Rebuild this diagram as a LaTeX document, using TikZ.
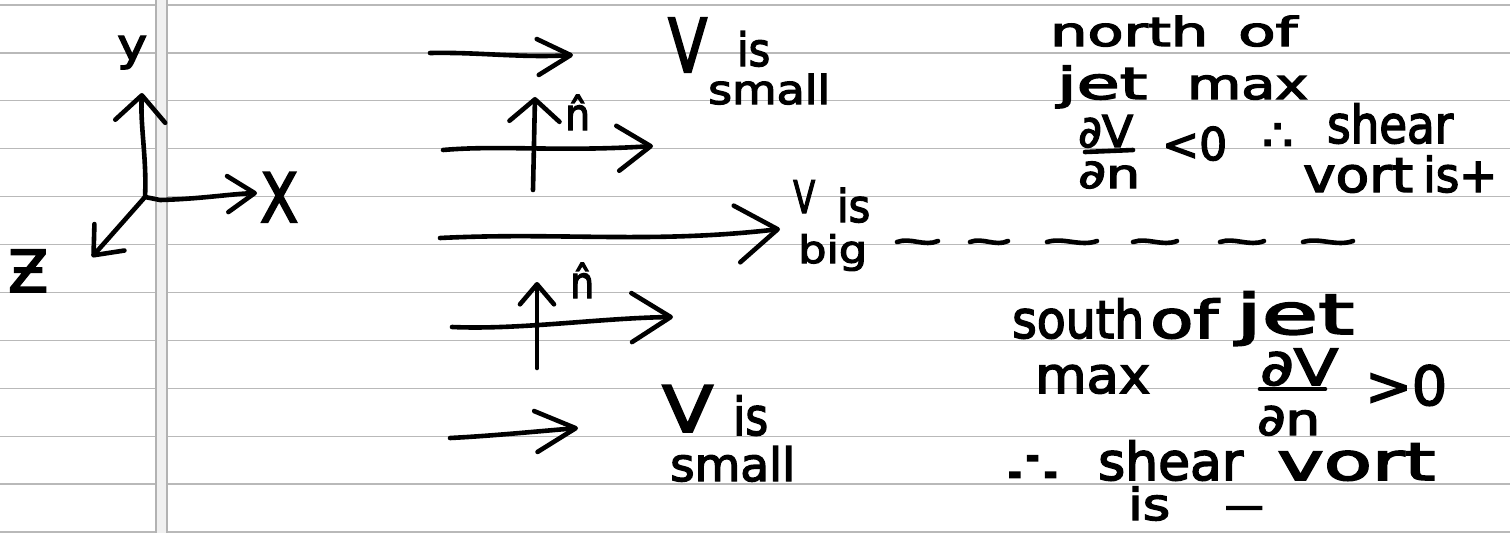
\documentclass[tikz,border=0pt]{standalone}
\usepackage{fontspec}
\setmainfont{DejaVu Sans}[FakeBold=3]
\usetikzlibrary{arrows.meta}
% stretch a word horizontally to a given width, keeping its height
\newcommand{\hw}[2]{\resizebox{#1pt}{\height}{#2}}
\begin{document}
\begin{tikzpicture}[x=1pt,y=-1pt,
  ink/.style={line width=4.6pt,line cap=round,line join=round,black},
  hd/.style 2 args={-{Straight Barb[length=#1pt,width=#2pt,round]}},
  hand/.style={inner sep=0pt,anchor=base west,text=black,font=\fontsize{#1pt}{#1pt}\selectfont},
  ruling/.style={gray!55,line width=1.2pt},
  marginline/.style={gray!60,line width=2.5pt}]
\useasboundingbox (0,0) rectangle (1510,533);
\fill[white] (0,0) rectangle (1510,533);

% ruled notebook paper
\foreach \k in {0,...,11} \draw[ruling] (0,{5+47.9*\k}) -- (1510,{5+47.9*\k});
\fill[gray!12] (157,0) rectangle (166,533);
\draw[marginline] (156,0) -- (156,533);
\draw[marginline] (167,0) -- (167,533);

% coordinate axes
\coordinate (O) at (145,197);
\coordinate (ytip) at (142,93);
\coordinate (xtip) at (257,193);
\coordinate (ztip) at (92,257);
\draw[ink,hd={26}{50}] (O) .. controls (147,160) and (140,125) .. (ytip);
\draw[ink,hd={27}{36}] (O) -- (160,200) .. controls (200,199) and (230,194) .. (xtip);
\draw[ink,hd={24}{40}] (O) -- (ztip);
\node[hand=44] (ylab) at (117,60) {\hw{30}{y}};
\node[hand=68] (xlab) at (260,222) {\hw{38}{X}};
\node[hand=58] (zlab) at (8,292) {\hw{40}{Ƶ}};

% wind arrows
\coordinate (a1s) at (430,53);  \coordinate (a1e) at (573,55);
\coordinate (a2s) at (443,150); \coordinate (a2e) at (653,146);
\coordinate (a3s) at (440,238); \coordinate (a3e) at (780,229);
\coordinate (a4s) at (452,327); \coordinate (a4e) at (673,317);
\coordinate (a5s) at (450,438); \coordinate (a5e) at (578,428);
\draw[ink,hd={33}{36}] (a1s) .. controls (480,52) and (520,58) .. (a1e);
\draw[ink,hd={33}{45}] (a2s) .. controls (500,145) and (560,152) .. (a2e);
\draw[ink,hd={41}{57}] (a3s) .. controls (560,232) and (650,244) .. (a3e);
\draw[ink,hd={39}{49}] (a4s) .. controls (520,330) and (600,318) .. (a4e);
\draw[ink,hd={40}{41}] (a5s) .. controls (490,436) and (530,432) .. (a5e);

% unit normals
\coordinate (n1s) at (533,190); \coordinate (n1e) at (535,97);
\coordinate (n2s) at (537,368); \coordinate (n2e) at (537,282);
\draw[ink,hd={22}{50}] (n1s) -- (n1e);
\draw[ink,hd={20}{34}] (n2s) -- (n2e);
\node[hand=44] (nhat1) at (565,130) {\hw{25}{\^{n}}};
\node[hand=44] (nhat2) at (570,298) {\hw{24}{\^{n}}};

% speed labels
\node[hand=74] (V1) at (668,72) {\hw{39}{V}};
\node[hand=46] (is1) at (737,66) {\hw{33}{is}};
\node[hand=40] (small1) at (708,104) {\hw{122}{small}};
\node[hand=45] (V2) at (793,213) {\hw{22}{V}};
\node[hand=45] (is2) at (837,222) {\hw{33}{is}};
\node[hand=38] (big) at (798,263) {\hw{69}{big}};
\node[hand=64] (V3) at (662,432) {\hw{51}{V}};
\node[hand=52] (is3) at (733,435) {\hw{35}{is}};
\node[hand=46] (small3) at (670,481) {\hw{125}{small}};

% jet axis
\foreach \a/\b in {897/938,970/1008,1047/1097,1133/1177,1220/1264,1303/1353}
  \draw[ink] (\a,242) .. controls ({\a+(\b-\a)/3},237) and ({\a+2*(\b-\a)/3},247) .. (\b,241);

% north of the jet maximum
\node[hand=40] (north) at (1050,46) {\hw{158}{north}};
\node[hand=40] (of1) at (1238,46) {\hw{59}{of}};
\node[hand=44] (jet1) at (1057,99) {\hw{90}{jet}};
\node[hand=42] (max1) at (1187,99) {\hw{121}{max}};
\node[hand=44] (dV1) at (1078,147) {\hw{55}{∂V}};
\draw[ink] (1085,152) -- (1133,150);
\node[hand=40] (dn1) at (1078,188) {\hw{62}{∂n}};
\node[hand=45] (lt) at (1162,160) {\hw{65}{<0}};
\node[hand=44] (th1) at (1262,150) {\hw{31}{∴}};
\node[hand=52] (shear1) at (1327,143) {\hw{126}{shear}};
\node[hand=48] (vort1) at (1303,192) {\hw{110}{vort}};
\node[hand=48] (isplus) at (1423,192) {\hw{74}{is+}};

% south of the jet maximum
\node[hand=52] (south) at (1012,338) {\hw{132}{south}};
\node[hand=52] (of2) at (1150,338) {\hw{68}{of}};
\node[hand=56] (jet2) at (1236,334) {\hw{118}{jet}};
\node[hand=50] (max2) at (1035,393) {\hw{115}{max}};
\node[hand=50] (dV2) at (1260,385) {\hw{78}{∂V}};
\draw[ink] (1260,389) -- (1325,389);
\node[hand=44] (dn2) at (1257,435) {\hw{63}{∂n}};
\node[hand=54] (gt) at (1365,405) {\hw{82}{>0}};
\node[hand=44] (th2) at (1005,482) {\hw{55}{∴}};
\node[hand=52] (shear2) at (1098,480) {\hw{145}{shear}};
\node[hand=52] (vort2) at (1277,480) {\hw{158}{vort}};
\node[hand=44] (is4) at (1128,520) {\hw{42}{is}};
\node[hand=44] (minus) at (1223,520) {\hw{42}{–}};
\end{tikzpicture}
\end{document}
